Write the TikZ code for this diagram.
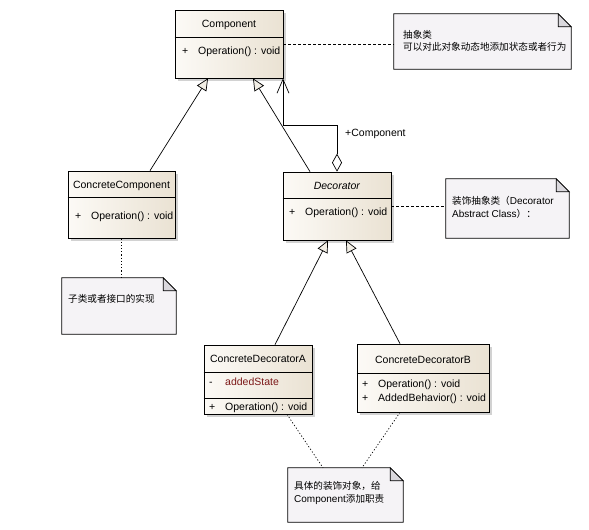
\documentclass[tikz,border=0pt]{standalone}
\usepackage{fontspec}
\setmainfont{Liberation Sans}
\newfontfamily\cjk{Noto Sans CJK SC}
\usetikzlibrary{arrows.meta,shadows}

\definecolor{boxleft}{RGB}{252,250,246}
\definecolor{boxright}{RGB}{234,226,211}
\definecolor{notepaperfill}{RGB}{245,243,246}
\definecolor{notefoldfill}{RGB}{218,216,221}
\definecolor{tipfill}{RGB}{242,238,229}
\definecolor{attrred}{RGB}{125,25,25}

\newcommand{\umlop}[2]{\makebox[16pt][l]{#1}#2}
\newcommand{\zh}[1]{{\cjk\fontsize{9.6}{12.5}\selectfont #1}}

\tikzset{
  classbox/.style={draw, line width=0.7pt, left color=boxleft, right color=boxright,
    drop shadow={shadow xshift=3pt, shadow yshift=-3pt, fill=black!35}, inner sep=0pt},
  sepline/.style={line width=0.7pt},
  ctitle/.style={inner sep=0pt, font=\fontsize{10.5}{12}\selectfont},
  member/.style={anchor=west, inner sep=0pt, font=\fontsize{10.5}{12}\selectfont},
  notebox/.style={inner sep=0pt},
  notepaper/.style={draw, line width=0.7pt, fill=notepaperfill},
  notefold/.style={draw, line width=0.7pt, fill=notefoldfill},
  notetext/.style={anchor=west, align=left, inner sep=0pt, font=\fontsize{10}{12.5}\selectfont},
  notedash/.style={line width=0.7pt, dash pattern=on 3pt off 2pt},
  notedot/.style={line width=0.7pt, dash pattern=on 1.2pt off 2pt},
  inherit/.style={line width=0.7pt, -{Triangle[length=12pt,width=11pt,fill=tipfill]}},
  aggr/.style={line width=0.7pt, {Diamond[length=18pt,width=10pt,fill=white]}-{Straight Barb[length=14pt,width=12pt]}},
}

\begin{document}
\begin{tikzpicture}[x=1pt, y=-1pt]
        \useasboundingbox (0,0) rectangle (589,530);
        % ==== CLASSES ====
        \node[classbox, minimum width=108pt, minimum height=68pt] (comp) at (229,44) {};
        \draw[sepline] (comp.west |- 0,37) -- (comp.east |- 0,37);
        \node[ctitle] (compname) at (229,25) {Component};
        \node[member] (compop) at (182,52) {\umlop{+}{Operation() : void}};

        \node[classbox, minimum width=107pt, minimum height=67pt] (concomp) at (121.5,204.5) {};
        \draw[sepline] (concomp.west |- 0,197) -- (concomp.east |- 0,197);
        \node[ctitle] (concompname) at (121.5,186) {ConcreteComponent};
        \node[member] (concompop) at (75,217) {\umlop{+}{Operation() : void}};

        \node[classbox, minimum width=108pt, minimum height=68pt] (deco) at (337,206) {};
        \draw[sepline] (deco.west |- 0,198) -- (deco.east |- 0,198);
        \node[ctitle] (deconame) at (337,186) {\textit{Decorator}};
        \node[member] (decoop) at (289,213) {\umlop{+}{Operation() : void}};

        \node[classbox, minimum width=108pt, minimum height=69pt] (decoa) at (258,379.5) {};
        \draw[sepline] (decoa.west |- 0,372) -- (decoa.east |- 0,372);
        \draw[sepline] (decoa.west |- 0,398) -- (decoa.east |- 0,398);
        \node[ctitle] (decoaname) at (258,359) {ConcreteDecoratorA};
        \node[member] (decoaattr) at (209,382) {\umlop{-}{\textcolor{attrred}{addedState}}};
        \node[member] (decoaop) at (209,408) {\umlop{+}{Operation() : void}};

        \node[classbox, minimum width=132pt, minimum height=68pt] (decob) at (423,378) {};
        \draw[sepline] (decob.west |- 0,373) -- (decob.east |- 0,373);
        \node[ctitle] (decobname) at (423,360) {ConcreteDecoratorB};
        \node[member] (decobop) at (362,385) {\umlop{+}{Operation() : void}};
        \node[member] (decobadd) at (362,399) {\umlop{+}{AddedBehavior() : void}};

        % ==== NOTES ====
        \node[notebox, minimum width=177pt, minimum height=55pt] (noteabs) at (482.5,41.5) {};
        \node[notebox, minimum width=123pt, minimum height=59pt] (notedeco) at (507.5,208.5) {};
        \node[notebox, minimum width=114pt, minimum height=56pt] (noteimpl) at (119,306) {};
        \node[notebox, minimum width=115pt, minimum height=54pt] (noteconc) at (345.5,495) {};
        \foreach \n in {noteabs,notedeco,noteimpl,noteconc} {
            \draw[notepaper] (\n.south west) -- (\n.north west) -- ([xshift=-13pt]\n.north east)
                -- ([yshift=-13pt]\n.north east) -- (\n.south east) -- cycle;
            \draw[notefold] ([xshift=-13pt]\n.north east) -- ([xshift=-13pt,yshift=-13pt]\n.north east)
                -- ([yshift=-13pt]\n.north east) -- cycle;
        }
        \node[notetext] (noteabstxt) at (403,41) {\zh{抽象类}\\\zh{可以对此对象动态地添加状态或者行为}};
        \node[notetext] (notedecotxt) at (452,207.5) {\zh{装饰抽象类（}Decorator\\Abstract Class\zh{）：}};
        \node[notetext] (noteimpltxt) at (68,299) {\zh{子类或者接口的实现}};
        \node[notetext] (noteconctxt) at (294,493) {\zh{具体的装饰对象，给}\\Component\zh{添加职责}};

        % ==== NOTE LINKS ====
        \draw[notedash] (comp.east) -- (noteabs.west |- comp.east);
        \draw[notedash] (deco.east) -- (notedeco.west |- deco.east);
        \draw[notedot] (concomp.south) -- (noteimpl.north -| concomp.south);
        \draw[notedot] ([xshift=29pt]decoa.south) -- ([xshift=-22.5pt]noteconc.north);
        \draw[notedot] ([xshift=-23pt]decob.south) -- ([xshift=16.5pt]noteconc.north);

        % ==== GENERALIZATION ====
        \draw[inherit] ([xshift=28.5pt]concomp.north) -- ([xshift=-21pt]comp.south);
        \draw[inherit] ([xshift=-27pt]deco.north) -- ([xshift=24pt]comp.south);
        \draw[inherit] ([xshift=17pt]decoa.north) -- ([xshift=-9pt]deco.south);
        \draw[inherit] ([xshift=-23pt]decob.north) -- ([xshift=9pt]deco.south);

        % ==== AGGREGATION ====
        \coordinate (aggtop) at ([xshift=54pt]comp.south);
        \draw[aggr] (deco.north) |- (aggtop |- 0,125) -- (aggtop);
        \node[member] (rolename) at (345,134) {+Component};
\end{tikzpicture}
\end{document}
